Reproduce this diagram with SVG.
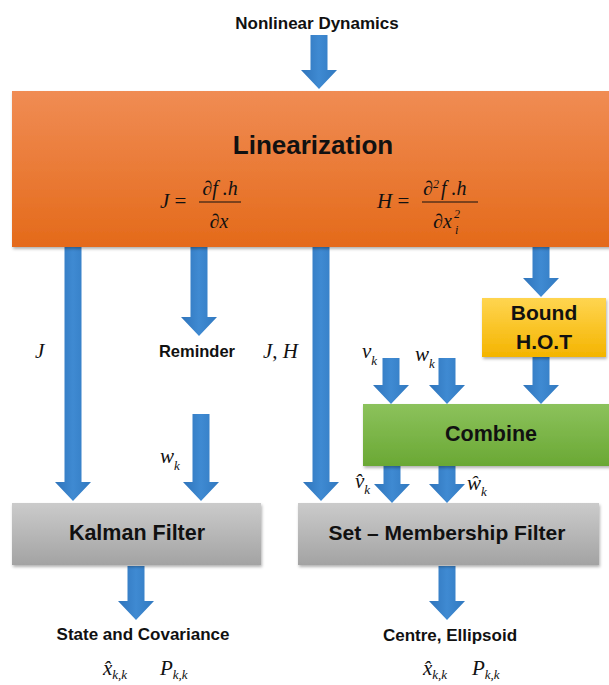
<svg xmlns="http://www.w3.org/2000/svg" width="609" height="685" viewBox="0 0 609 685">
<defs>
<linearGradient id="gOrange" x1="0" y1="0" x2="0" y2="1"><stop offset="0" stop-color="#f08c54"/><stop offset="1" stop-color="#e46a1a"/></linearGradient>
<linearGradient id="gGreen" x1="0" y1="0" x2="0" y2="1"><stop offset="0" stop-color="#8cc25c"/><stop offset="1" stop-color="#6aa834"/></linearGradient>
<linearGradient id="gYellow" x1="0" y1="0" x2="0" y2="1"><stop offset="0" stop-color="#ffd550"/><stop offset="1" stop-color="#f4b400"/></linearGradient>
<linearGradient id="gGray" x1="0" y1="0" x2="0" y2="1"><stop offset="0" stop-color="#cbcbcb"/><stop offset="1" stop-color="#a3a3a3"/></linearGradient>
<linearGradient id="gBlue" x1="0" y1="0" x2="1" y2="0"><stop offset="0" stop-color="#2f74bb"/><stop offset="0.5" stop-color="#3f8ad2"/><stop offset="1" stop-color="#3179c0"/></linearGradient>
<filter id="sh" x="-5%" y="-10%" width="110%" height="130%"><feDropShadow dx="1" dy="2" stdDeviation="1.5" flood-color="#000" flood-opacity="0.3"/></filter>
</defs>
<style>
.lbl{font-family:"Liberation Sans",Arial,sans-serif;font-weight:bold;fill:#111;}
.m{font-family:"Liberation Serif","Times New Roman",serif;font-style:italic;fill:#111;}
.arr{fill:url(#gBlue);}
</style>

<g id="connectors">
<path class="arr" d="M310.5,35 H327.5 V70 H337 L319,89 L301,70 H310.5 Z"/>
<path class="arr" d="M64.5,247 H81.5 V482 H91 L73,501 L55,482 H64.5 Z"/>
<path class="arr" d="M190.5,247 H207.5 V317 H217 L199,336 L181,317 H190.5 Z"/>
<path class="arr" d="M192.5,414 H209.5 V482 H219 L201,501 L183,482 H192.5 Z"/>
<path class="arr" d="M312.5,247 H329.5 V482 H339 L321,501 L303,482 H312.5 Z"/>
<path class="arr" d="M532.5,247 H549.5 V278 H559 L541,297 L523,278 H532.5 Z"/>
<path class="arr" d="M382.5,358 H399.5 V385 H409 L391,404 L373,385 H382.5 Z"/>
<path class="arr" d="M438.5,358 H455.5 V385 H465 L447,404 L429,385 H438.5 Z"/>
<path class="arr" d="M532.5,357 H549.5 V385 H559 L541,404 L523,385 H532.5 Z"/>
<path class="arr" d="M383.5,466 H400.5 V484 H410 L392,503 L374,484 H383.5 Z"/>
<path class="arr" d="M438.5,466 H455.5 V484 H465 L447,503 L429,484 H438.5 Z"/>
<path class="arr" d="M127.5,566 H144.5 V601 H154 L136,620 L118,601 H127.5 Z"/>
<path class="arr" d="M438.5,566 H455.5 V601 H465 L447,620 L429,601 H438.5 Z"/>
</g>

<text class="lbl" x="317" y="29" font-size="17" text-anchor="middle">Nonlinear Dynamics</text>

<g id="linearization">
<rect x="12" y="91" width="610" height="156" fill="url(#gOrange)" filter="url(#sh)"/>
<text class="lbl" x="313" y="154" font-size="26" text-anchor="middle">Linearization</text>
<text class="m" x="160" y="208" font-size="21">J <tspan font-style="normal">=</tspan></text>
<text class="m" x="220" y="195" font-size="20" text-anchor="middle">∂f .h</text>
<line x1="199" y1="202" x2="241" y2="202" stroke="#111" stroke-width="1.2"/>
<text class="m" x="219" y="228" font-size="20" text-anchor="middle">∂x</text>
<text class="m" x="377" y="208" font-size="21">H <tspan font-style="normal">=</tspan></text>
<text class="m" x="423" y="195" font-size="20">∂<tspan font-size="12" dy="-7">2</tspan><tspan dx="2" dy="7">f .h</tspan></text>
<line x1="422" y1="202" x2="478" y2="202" stroke="#111" stroke-width="1.2"/>
<text class="m" x="433" y="228" font-size="20">∂x</text>
<text class="m" x="454" y="218" font-size="12">2</text>
<text class="m" x="455" y="234" font-size="12">i</text>
</g>

<g id="bound">
<rect x="482" y="298" width="124" height="59" fill="url(#gYellow)" filter="url(#sh)"/>
<text class="lbl" x="544" y="320" font-size="21" text-anchor="middle">Bound</text>
<text class="lbl" x="544" y="349" font-size="21" text-anchor="middle">H.O.T</text>
</g>

<g id="combine">
<rect x="363" y="404" width="260" height="62" fill="url(#gGreen)" filter="url(#sh)"/>
<text class="lbl" x="491" y="441" font-size="21.5" text-anchor="middle">Combine</text>
</g>

<g id="kalman">
<rect x="12" y="503" width="249" height="62" fill="url(#gGray)" filter="url(#sh)"/>
<text class="lbl" x="137" y="540" font-size="21.5" text-anchor="middle">Kalman Filter</text>
</g>

<g id="setmembership">
<rect x="298" y="503" width="301" height="62" fill="url(#gGray)" filter="url(#sh)"/>
<text class="lbl" x="447" y="540" font-size="21" text-anchor="middle">Set – Membership Filter</text>
</g>

<g id="labels">
<text class="m" x="35" y="358" font-size="21">J</text>
<text class="lbl" x="197" y="357" font-size="16.5" text-anchor="middle">Reminder</text>
<text class="m" x="263" y="358" font-size="21">J<tspan font-style="normal">,</tspan> H</text>
<text class="m" x="362" y="358" font-size="21">v<tspan font-size="13" dy="7">k</tspan></text>
<text class="m" x="415" y="361" font-size="21">w<tspan font-size="13" dy="7">k</tspan></text>
<text class="m" x="160" y="463" font-size="21">w<tspan font-size="13" dy="7">k</tspan></text>
<text class="m" x="355" y="488" font-size="21">v̂<tspan font-size="13" dy="6">k</tspan></text>
<text class="m" x="467" y="490" font-size="21">ŵ<tspan font-size="13" dy="6">k</tspan></text>
<text class="lbl" x="143" y="640" font-size="17" text-anchor="middle">State and Covariance</text>
<text class="lbl" x="450" y="641" font-size="17" text-anchor="middle">Centre, Ellipsoid</text>
<text class="m" x="103" y="675" font-size="21">x̂<tspan font-size="13" dy="4">k,k</tspan></text>
<text class="m" x="160" y="675" font-size="21">P<tspan font-size="13" dy="4">k,k</tspan></text>
<text class="m" x="423" y="675" font-size="21">x̂<tspan font-size="13" dy="4">k,k</tspan></text>
<text class="m" x="472" y="675" font-size="21">P<tspan font-size="13" dy="4">k,k</tspan></text>
</g>
</svg>
